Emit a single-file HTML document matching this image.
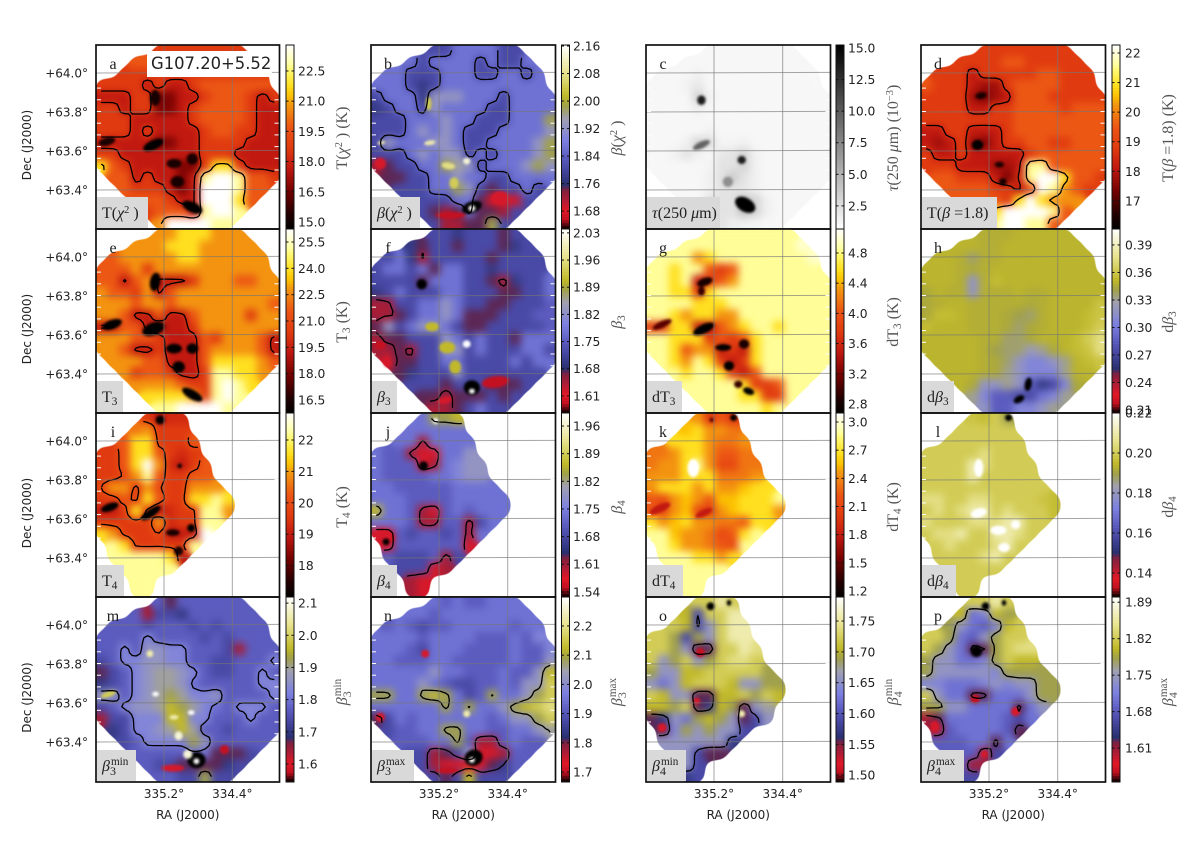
<!DOCTYPE html>
<html lang="en">
<head>
<meta charset="utf-8">
<title>G107.20+5.52 dust parameter maps</title>
<style>
html,body{margin:0;padding:0;background:#fff;}
#figure{display:block;width:1200px;height:842px;}
text{font-family:"DejaVu Sans",sans-serif;fill:#222;}
.serif{font-family:"Liberation Serif","DejaVu Serif",serif;}
</style>
</head>
<body>
<svg id="figure" xmlns="http://www.w3.org/2000/svg" width="1200" height="842" viewBox="0 0 1200 842">
<defs>
<filter id="smooth" x="-15%" y="-15%" width="130%" height="130%" color-interpolation-filters="sRGB">
<feGaussianBlur in="SourceGraphic" stdDeviation="4" result="colour"/>
<feComponentTransfer in="colour" result="opaque"><feFuncA type="linear" slope="30"/></feComponentTransfer>
<feGaussianBlur in="SourceAlpha" stdDeviation="6" result="coverage"/>
<feComponentTransfer in="coverage" result="mask"><feFuncA type="linear" slope="14" intercept="-5.6"/></feComponentTransfer>
<feComposite in="opaque" in2="mask" operator="in"/>
</filter>
<filter id="soft" x="-60%" y="-60%" width="220%" height="220%" color-interpolation-filters="sRGB">
<feGaussianBlur stdDeviation="1.2"/>
</filter>
</defs>
</svg>
<script>
// Map values are colourbar levels 0 (bottom of the bar) to 9 (top of the bar), read by eye. _ = no data.
const _ = null;
const raTicks = [335.2, 334.4];
const decTicks = [64.0, 63.8, 63.6, 63.4];

const valuesA = [
[_,_,_,_,_,4,4,4,4,4,4,4,4],
[_,_,_,5,5,4,4,4,4,4,4,4,4,4],
[_,_,4,4,4,4,4,4,4,4,4,4,4,4,4],
[4,4,4,4,3,4,3,3,4,5,5,5,5,5,5],
[3,3,3,4,4,2,2,3,3,4,5,5,5,4,3,4],
[4,4,3,4,4,2,2,3,4,5,5,5,5,4,3,3],
[4,4,4,3,3,3,3,3,4,5,5,5,5,4,3,3],
[4,4,4,3,4,3,3,3,3,4,5,5,4,4,3,3],
[3,3,3,3,3,2,2,3,3,4,4,4,4,3,3,3],
[4,4,3,3,3,3,3,3,3,4,4,4,3,3,3,3],
[7,5,4,3,3,3,3,2,2,4,7,7,4,3,3,3],
[_,5,5,3,4,3,3,2,3,8,9,9,8,5,5,4],
[_,_,5,4,4,4,3,2,3,9,9,9,8,5,5],
[_,_,_,5,5,5,4,3,3,9,9,9,7,5],
[_,_,_,_,4,5,5,5,3,8,9,9,8],
[_,_,_,_,_,6,9,9,9,9,8,8]
];
const valuesB = [
[_,_,_,_,_,3,3,4,4,4,4,3,3],
[_,_,_,4,3,4,4,4,4,3,4,3,3,4],
[_,4,4,3,3,3,4,4,4,3,3,4,4,3,4],
[4,4,4,3,2.5,3,4,4,4,4,4,4,4,4,4],
[3,4,4,4,2.5,5,5,5,4,4,4,3,4,4,4,4],
[2.5,3,4,4,3,5,4,4,4,4,3,3,4,4,4,4],
[3,3,3,4,4,4,5,4,4,3,3,3,4,4,4,6],
[3,3,3,4,5,4,5,4,3,3,3,4,4,4,4,5],
[3,5,4,4,4,5,5,4,3,3,4,4,4,4,5,6],
[3,3,3,4,5,4,5,5,3,4,3,4,4,4,5,6],
[1.5,2,3,3,4,4,6,5.5,5,3,4,4,4,5,6,5],
[_,2,2,3,3,4,4,5,4,4,3,3,4,4,4,4],
[_,_,3,3,3,4,4,6,5,3,2,3,3,4,3],
[_,_,_,3,3,3,3,4,4,2,1,1,1,3],
[_,_,_,_,3,2,1.5,2,4,2,2,1.5,3],
[_,_,_,_,_,3,1.5,1.5,2,2,6,3]
];
const valuesC = [
[_,_,_,_,_,.3,.3,.3,.3,.3,.3,.3,.3],
[_,_,_,.3,.3,.3,.3,.3,.3,.3,.3,.3,.3,.3],
[_,.3,.3,.3,.5,.3,.3,.3,.3,.3,.3,.3,.3,.3,.3],
[.3,.3,.3,.5,.8,.3,.3,.3,.3,.3,.3,.3,.3,.3,.3],
[.3,.3,.3,.3,1.5,.5,.3,.3,.3,.3,.3,.3,.3,.3,.3,.3],
[.3,.3,.3,.3,.6,.3,.3,.3,.3,.3,.3,.3,.3,.3,.3,.3],
[.3,.3,.3,.3,.3,.3,.3,.3,.3,.3,.3,.3,.3,.3,.3,.3],
[.3,.3,.3,.3,.3,.5,.3,.3,.3,.3,.3,.3,.3,.3,.3,.3],
[.3,.3,.3,.5,1.5,1.2,.4,.4,.5,.3,.3,.3,.3,.3,.3,.3],
[.3,.3,.5,1,.5,.3,.8,1,1.5,.5,.3,.3,.3,.3,.3,.3],
[.3,.3,.3,.3,.3,.4,1,1,1.5,.5,.3,.3,.3,.3,.3,.3],
[_,.3,.3,.3,.3,.5,1,1.8,1,.5,.3,.3,.3,.3,.3,.3],
[_,_,.3,.3,.3,.5,1,1,.8,.5,.3,.3,.3,.3,.3],
[_,_,_,.3,.3,1,1,1,2,1.5,.5,.3,.3,.3],
[_,_,_,_,.3,1,1,1,2,1.5,.5,.3,.3],
[_,_,_,_,_,.5,1,.6,.5,.4,.3,.3]
];
const valuesD = [
[_,_,_,_,_,4,4,4,4,4,4,4,4],
[_,_,_,4,4,4,4,5,5,4,4,4,4,4],
[_,4,4,4,3,4,4,4,4,4,5,5,4,4,4],
[5,4,4,4,3,2.5,2.5,4,5,5,5,5,4,4,4],
[4,4,4,4,2.5,2,2.5,3,5,5,5,4,4,4,4,4],
[4,4,4,4,3,3,4,4,5,5,5,5,4,5,5,5],
[4,4,4,4,4,4,4,4,5,5,5,5,5,5,5,5],
[3,3,4,4,3,3,3,4,5,5,5,5,5,5,5,5],
[3,2.5,3,4,2.5,2,3,4,4,5,5,4,4,5,5,5],
[4,3,3,4,3,3,3,3,3,4,5,5,5,5,5,5],
[4,4,4,3,3,3,2.5,2.5,3,8,8,5,5,5,5,5],
[_,5,5,4,4,4,3,2,3.5,8,9,9,7,5,5,4],
[_,_,5,5,5,5,4,4,3,5,9,8,6,5,4],
[_,_,_,5,5,5,5,4,7,9,7,6,6,6],
[_,_,_,_,5,5,7,9,9,9,9,8,5],
[_,_,_,_,_,5,8,9,9,8,8,5]
];
const valuesE = [
[_,_,_,_,_,6,6,7,7,7,6,6,6],
[_,_,_,6,6,6,7,7,7,6,6,6,6,6],
[_,5,6,6,6,6,6,7,7,6,6,6,6,6,6],
[5,5,5,6,4,6,6,6,6,6,6,6,6,6,6],
[5,5,3,5,6,3,3,3,4,6,6,6,5,5,6,6],
[6,5,5,4,6,3,5,6,6,6,6,6,6,6,6,6],
[6,6,6,5,6,6,5,6,6,6,6,6,6,6,6,5],
[6,6,5,3,3,5,3,3,5,6,6,6,6,4,6,6],
[3,3,5,5,3,2,3,3,4,6,6,6,6,6,6,6],
[6,6,6,5,5,4,3,3,3,5,4,6,6,6,5,3],
[6,6,5,3,3,4,3,3,3,5,6,6,6,6,5,3],
[_,6,6,6,5,5,3,3,3,5,7,7,7,7,6,5],
[_,_,6,4,5,5,4,3,3,4,8,8,7,7,6],
[_,_,_,6,6,6,6,5,4,4,8,9,8,7],
[_,_,_,_,7,7,7,7,6,4,8,9,8],
[_,_,_,_,_,8,8,9,9,9,9,8]
];
const valuesF = [
[_,_,_,_,_,3,3,2.5,3,3,3,2,3],
[_,_,_,2.5,2,3,3,2,3,3,3,2,2.5,3],
[_,3,4,2.5,1.5,3,3,3,3,3,2,3,3,3,3],
[3,4,4,3,4,2,4,4,3,3,2.5,3,3,3,3],
[3,3,3,3,2,4,4,4,3,3,2,1.5,2.5,3,3,4],
[2.5,3,4,3,3,3,4,4,3,3,3,2,2,3,3,4],
[1.5,1.5,3,3,4,4,5,4,3,3,2,2,3,3,3,3.5],
[1.5,1.5,2,3,4,4,5,4,2,2,2,3,3,3,3.5,3.5],
[2,5,3,4,5,5,4,3,2,2,3,3,3,3,3,3.5],
[1.5,2,2,3,3,3,5,4,3,4,3,3,2,4,4,4],
[1.5,1.5,2,1.5,3,3,5,5,3,4,3,3,3,4,4,3],
[_,1,2,2,3,3,4,4,3,3,3,3,4,3,4,4],
[_,_,2,2.5,3,3,3,5,3,3,3,3,3,3,3],
[_,_,_,3,3,3,2,3,3,3,2,2,2,3],
[_,_,_,_,2,2,1.5,2,2,2,3,2,3],
[_,_,_,_,_,1.5,1.5,2,3,4,3,3]
];
const valuesG = [
[_,_,_,_,_,8,8,8,8,8,8,8,8],
[_,_,_,8,8,8,8,8,8,8,8,8,8,8.5],
[_,8,8,8,6,7,8,8,8,8,8,8,8,8,8.5],
[8,8,7,8,8,5,4,5,8,8,8,8,8,8,8],
[8,8,7,8,3,4,5,6,8,8,8,8,8,8,8,8],
[8,8,7,7,4,7,8,8,8,8,8,8,8,8,8,8],
[8,8,8,8,7,7,7,8,8,8,8,8,8,8,8,8],
[8,8,7,6,7,7,6,6,8,8,8,8,8,8,8,8],
[4,4,7,7,3,3,5,6,7,8,8,7,8,8,8,8],
[8,8,7,7,7,4,5,4,5,7,8,8,8,8,8,8],
[8,8,7,5,6,6,3,4,3,7,8,8,8,8,8,8],
[_,8,7,6,8,7,4,3,4,7,8,8,8,8,8,8],
[_,_,8,7,8,8,7,4,3,5,8,8,8,8,8],
[_,_,_,8,8,8,8,8,7,4,4,5,8,8],
[_,_,_,_,8,8,8,8,7,7,4,4,8],
[_,_,_,_,_,8,8,8,8,8,7,8]
];
const valuesH = [
[_,_,_,_,_,6.3,6.3,6.3,6.4,6.4,6.4,6.4,6.4],
[_,_,_,6.4,6.4,6.3,6.3,6.4,6.4,6.4,6.4,6.4,6.4,6.4],
[_,6.4,6.4,6.3,5.8,6.3,6.3,6.4,6.4,6.4,6.4,6.4,6.4,6.4,6.4],
[6.4,6.4,6.4,6.3,6.2,6.3,6.4,6.4,6.4,6.4,6.4,6.4,6.4,6.4,6.4],
[6.4,6.4,6.4,6.3,5,6.3,6.6,6.4,6.4,6.4,6.4,6.4,6.4,6.4,6.4,6.4],
[6.2,6.4,6.3,6.3,5,6.3,6.3,6.3,6.4,6.3,6.3,6.4,6.4,6.4,6.4,6.4],
[6.2,6.3,6.4,6.4,6.3,6.3,6.3,6.3,6.3,6.2,6.3,6.4,6.4,6.4,6.4,6.8],
[6.2,6.6,6.6,6.4,6.3,6.3,6.3,6.2,6,5.8,6.3,6.4,6.4,6.4,6.6,6.8],
[6.6,6.4,6.4,6.4,6.3,6.3,6.3,6.2,5.8,6.2,6.3,6.4,6.4,6.4,6.6,7],
[6.4,6.4,6.4,6.4,6.4,6.3,6.3,5.8,5.8,6.2,6.4,6.4,6.4,6.6,7,7.5],
[6.4,6.4,6.4,6.4,6.4,6.3,6,5.8,5.8,5.2,5.6,6.2,6.4,6.6,6.8,7.5],
[_,6.4,6.4,6.4,6.4,6.3,6.2,5.8,5,4.5,4.5,5,5.6,6.4,6.6,6.8],
[_,_,6.4,6.4,6.4,6.3,6.2,5.6,5,4.5,4.5,4.5,5.6,6.4,6.4],
[_,_,_,6.4,6.2,5,5,5.6,5,3.5,2.5,3,4.5,6.2],
[_,_,_,_,5.6,4.5,3.5,3.5,3,3,4,4.5,5.6],
[_,_,_,_,_,5,3.5,3.5,4.5,4.5,5,5.6]
];
const valuesI = [
[_,_,_,_,4,3,3.5,3.5],
[_,_,_,5.5,6,4,4,4],
[_,_,5,7,7,4,4,4,5],
[4,4,5,7,7,5,4,3.5,4],
[4,4,5,7,9,6,3.5,3,4,5],
[4,4,4.5,6,8,5,4,4,5,5],
[4.5,6,6,4,6,4.5,4,4,6,6,6],
[4,4,5,4,7,5,4,4,7,7,8,7],
[3,3,4,7,4,3,3.5,4,4,8,8,6],
[4,4,4,4,4,6,3.5,4,4,8,8],
[7,6,4,4,4,4.5,3,3,3,9],
[_,8,7,4,4,4,4,4,8],
[_,8,8,8,8,8,7,3],
[_,_,8,8,8,8,8],
[_,_,_,8,8],
[_,_,_,8,8]
];
const valuesJ = [
[_,_,_,_,4,6,6,6.5],
[_,_,_,4,4,4,4,4],
[_,_,4,4,1.5,4,4,4,4],
[4,3.5,3.5,1.5,1,1,4,4,5],
[4,3.5,3.5,3.5,1,1.5,4,4.5,5,5],
[4,3.5,3.5,3.5,3.5,4,4,4.5,5,5],
[4,4,3.5,3.5,3.5,3.5,3.5,4,4,4,4],
[4,4,4,3.5,3.5,3.5,3.5,4,4,4,4,4],
[6.5,4,4,3.5,1.5,1,3.5,4,3.5,4,4,4],
[4,4,4,3.5,1.5,1.5,3.5,3.5,1.5,3,4],
[1,1,3.5,3,3.5,3.5,3,3.5,1.5,4],
[_,1,3.5,3.5,3.5,3.5,3.5,3.5,1],
[_,3.5,3,3,3,3.5,1.5,3],
[_,_,3,3,3,1,1.5],
[_,_,_,1.5,1],
[_,_,_,1.5,1]
];
const valuesK = [
[_,_,_,_,6,4,5,4],
[_,_,_,6.5,7,6,6,5.5],
[_,_,7,7,7,6,5.5,5.5,6],
[5.5,5.5,6,7,7,6,5,5,5.5],
[5.5,6,6,7,8,6,4.5,4.5,5.5,5.5],
[6,6,6,7,7,7,5.5,5.5,5.5,6],
[6,7,7,7,6,7,6,6,6.5,7,7],
[5,4.5,6,6.5,6,5,6.5,6.5,7,7,7,8],
[5,4.5,6,6.5,4.5,4,6,6.5,7,7,7,6],
[7,6,6.5,7,6,6,5.5,5.5,5,7,7],
[8,8,6.5,6,6,5.5,4.5,5,7,8],
[_,8,7,6,6,5.5,5,4.5,8],
[_,8,8,8,7,7,6,7],
[_,_,8,8,8,8,8],
[_,_,_,8,8],
[_,_,_,8,8]
];
const valuesL = [
[_,_,_,_,6.8,6.6,7,6],
[_,_,_,7,7,7,7,7],
[_,_,7,7,7,7,7,7,7],
[7,7,7,7,7,7.5,7,7,7],
[7,7,7,7,8,7.5,7,7,7,7],
[7,7,7,7,8,7,7,7,7,7],
[7,7,7,7,7,7,7,7,7,7,7],
[7.5,7.5,7,7,7.5,7.5,7,7,7,7,6.8,6.6],
[7,7.5,7,7.5,8,8,7,7.5,7,7,7,6.6],
[7.5,7,7,7,7.5,7.5,7.5,8,8,7,7],
[7,7.5,7.5,8,7,7,8,8,7.5,7],
[_,7,7.5,7,7,7,7.5,8,7],
[_,7,7,7,7,7.5,8,7],
[_,_,7,7,7,7,7],
[_,_,_,7,7],
[_,_,_,7,7]
];
const valuesM = [
[_,_,_,_,_,3.5,2,3.5,3.5,3.5,3.5,3.5,3.5],
[_,_,_,3.5,1.5,3,3,2.5,3.5,3.5,3.5,3.5,3.5,3.5],
[_,3.5,3.5,3.5,3,3.5,3.5,3.5,3,3.5,3,3.5,3.5,3.5,3.5],
[3.5,3.5,3.5,3.5,4.5,3.5,3.5,3.5,3.5,3,3.5,3,3.5,3.5,3.5],
[3.5,3.5,4.5,3.5,5,5,4.5,4.5,3.5,3.5,3.5,3,1.5,3.5,3.5,3.5],
[3,3.5,4.5,4.5,5,5,4.5,4.5,3.5,3.5,3,3,3.5,3.5,3.5,4.5],
[2,3,3.5,4.5,5,5.5,5.5,5,4.5,3.5,3,3,3.5,3.5,4.5,3.5],
[2.5,3,3.5,4.5,5,5.5,5.5,5,4,3.5,3.5,3.5,3.5,3.5,4.5,4.5],
[5,5,3.5,4.5,5,5.5,6,5.5,4.5,4.5,5,3.5,3.5,3.5,3.5,4.5],
[3,3.5,4.5,5,5,5.5,6.5,6,5.5,4.5,4,3.5,4.5,4.5,4.5,3.5],
[1.5,3,3,4.5,4.5,4.5,6.5,6.5,4.5,4.5,3.5,3.5,3.5,4.5,3.5,3.5],
[_,2.5,3,4.5,4.5,5,5.5,6.5,5.5,3.5,3.5,3,3.5,3.5,3.5,3.5],
[_,_,3,3.5,4.5,4.5,4.5,4.5,6,5,3.5,3.5,3.5,3.5,3.5],
[_,_,_,3.5,3.5,3.5,3.5,3.5,4,4,2,2,2,3],
[_,_,_,_,3.5,3,3,2,2,2,2,2.5,3],
[_,_,_,_,_,3.5,3.5,3,3,6,3,3]
];
const valuesN = [
[_,_,_,_,_,4,3.5,4,3.5,3.5,4,4,4],
[_,_,_,4,4,3.5,4,4,4,4,4,4,4,4],
[_,3.5,4,3.5,3,3.5,3.5,4,4,4,4,4,3.5,4,4],
[4,4,4,4,3.5,4,4,4,4,3.5,3.5,3.5,4,3.5,4.5],
[4,4,4,3.5,3,4,4,4,3.5,3.5,3.5,3.5,4,3.5,3.5,4.5],
[4,4,3.5,3.5,3.5,4,4,3.5,3.5,3.5,3.5,3.5,4,3.5,3.5,5],
[4,4,4,4,4,5,4,4,3.5,3.5,3.5,4,3.5,3.5,5,6.5],
[4,4,4,4,5,4,3.5,3,3,3.5,3.5,4,3.5,5,5,7],
[6,6,4,4,6,6.5,6,4,3,3.5,6,4,4,5,6,7],
[4,4,4,4,4,4,6,4,6,4,4,5,6,6.5,7,7.5],
[2,3,4,3.5,4,4,4,4,4,4,3.5,4,5,5,6,7],
[_,3,3.5,3.5,4,4,6,6,4,4,3.5,3.5,4,4,5,5.5],
[_,_,3.5,3.5,3.5,4,4,6,3.5,1.5,1.5,3.5,4,3.5,3.5],
[_,_,_,3,3,1.5,2,3,5,1,1,1.5,3.5,3.5],
[_,_,_,_,3,1.5,1,1,1,1,2,2.5,3.5],
[_,_,_,_,_,3,2,3,6.5,3,3,3]
];
const valuesO = [
[_,_,_,_,7,7,8,7],
[_,_,_,6.5,3,7,7,8],
[_,_,7,6.5,3,5,7,8,8],
[7,7,6,3,6,5,7,8,8],
[7,7,6,5,2,2,7,7,8,7.5],
[7,5,6,7,5,6,7,7.5,7.5,7],
[6,5,5,6.5,6.5,7,7,7,7,7,6],
[5,4,5,6.5,7,7,7,6.5,5,5,6,6],
[7,6.5,5,5,2,2,6.5,6.5,7,6,7,6.5],
[6.5,6.5,6,7,2,2.5,6.5,6,2,5,5.5],
[2,2.5,5,4,6,6.5,6,5,2,3,5],
[_,2,4.5,6,5,6,5,5,3],
[_,5,5,5,5,5,5,2.5],
[_,_,5,5,3,2,2],
[_,_,_,5,3],
[_,_,_,2.5,3]
];
const valuesP = [
[_,_,_,_,7,7,8,7],
[_,_,_,6.5,4,4.5,6.5,6],
[_,_,6,5,4,3.5,4.5,6.5,7],
[7,7,6,4,3.5,5,6,7,7],
[7,6,5,4,2,2,6,7,7.5,7.5],
[6,5,5,4,4,4.5,6,7,6.5,6.5],
[6,5,5,5,5,5,4.5,6,6,6,6],
[4.5,4.5,4,4,4,4.5,5,4.5,5,5,6,6],
[7,5,4,4,2,2,4,4,4,5,6,6],
[6,6,5,5,4,4,4,4,2,4,5],
[1.5,2,4,4,4,4,4,3.5,3,4],
[_,1.5,3.5,4,4,4,4,3.5,2],
[_,3.5,3.5,3.5,4,4,2,4],
[_,_,3.5,3.5,3.5,1.5,3],
[_,_,_,3.5,1.5],
[_,_,_,3,3]
];

// Compact clumps: [column, row, x radius, y radius, level, rotation] in map-grid units.
const clumpsA = [[4.66,4.1,.45,.7,0.5,0],[4.5,8.2,.95,.42,0,-25],[.45,7.9,.75,.35,0.5,-15],[6.3,9.8,.65,.42,0.5,0],[6.6,11.4,.6,.5,0.5,0],[7.9,9.4,.5,.5,0.5,0],[7.9,13.6,.95,.45,0,25]];
const clumpsB = [[8.25,13.6,.9,.5,0,-20],[8.25,13.7,.3,.25,9,0],[4.5,4.6,.25,.6,7,0],[4.6,8,.5,.2,8,-10],[.4,8,.35,.16,8,-10],[6.2,10,.6,.3,7.5,10],[6.7,11.5,.4,.5,7,0],[7.8,9.6,.32,.3,8.5,0],[10.7,12.8,.8,.6,1,0],[6.4,14.3,1.3,.3,0.5,0],[.3,9.8,.5,.5,1,0]];
const clumpsC = [[4.3,4.3,.36,.42,8,0],[4.3,8.2,.8,.3,5.5,-25],[7.8,9.5,.36,.36,8,0],[6.6,11.4,.45,.45,4,0],[8.1,13.4,.95,.6,9,30]];
const clumpsD = [[4.7,3.9,.5,.3,0.5,-10],[4.4,8.2,.5,.45,0,0],[6.3,9.9,.4,.25,0.5,0],[6.6,11.4,.35,.32,0.5,0]];
const clumpsE = [[4.66,4.1,.45,.8,0,10],[4.5,8.2,1,.55,0,-20],[.9,7.8,.9,.4,0,-20],[6.3,9.9,.7,.42,0,0],[6.7,11.5,.55,.5,0,0],[7.9,9.9,.5,.45,0,0],[7.9,13.9,1,.4,0,30]];
const clumpsF = [[3.9,4.3,.45,.45,0,0],[.3,9.6,.5,.4,0.5,0],[.9,11.1,.3,.4,1,0],[8.25,13.3,.7,.65,0,0],[8.25,13.6,.25,.22,9,0],[10.3,12.8,1.2,.5,0.5,-8],[7.8,9.5,.35,.32,9,0],[5.9,14.4,.7,.3,1,-10],[6.1,9.8,.7,.5,6.5,0],[6.8,11.5,.5,.6,6.5,0],[4.8,8,.6,.4,6.5,0]];
const clumpsG = [[4.6,4.1,.7,.35,0.5,-20],[4.3,4.9,.3,.42,1,0],[.9,7.8,.9,.3,1.5,-25],[4.5,8.2,1,.4,0,-25],[8,9.5,.45,.42,0.5,0],[6.2,9.8,.7,.3,0,0],[6.7,11.4,.45,.42,0,0],[8.4,13.6,.5,.3,0,20],[7.5,13,.36,.32,1,0]];
const clumpsH = [[8.8,13,.3,.6,0,10],[8,14.3,.5,.3,0,-30]];
const clumpsI = [[5.1,.1,.4,.4,0,0],[.7,7.7,.8,.35,0,-20],[4.3,8.2,1,.35,0,-35],[6.2,9.9,.6,.3,0.5,0],[7.8,9.5,.35,.35,0,0],[6.7,11.5,.4,.4,0.5,0],[6.8,4.1,.2,.2,0,0]];
const clumpsJ = [[.7,10.2,.9,.6,1,20],[4.05,4.1,.4,.4,0,0],[.8,10.7,.3,.3,0,0],[5.1,.2,.25,.25,9,0]];
const clumpsK = [[7.1,-.1,.3,.3,0,0],[5.2,.1,.2,.2,1.5,0],[.7,7.8,1,.35,3,-25],[4.5,8.2,.8,.3,3,-25],[3.6,4.3,.5,.8,9,0]];
const clumpsL = [[7.1,-.1,.3,.3,0,0],[4.5,4.3,.4,.8,9,0],[4.5,8.2,.7,.4,9,-15],[6.2,9.7,.7,.4,9,0],[6.7,11.2,.5,.4,9,0],[7.7,9.2,.4,.4,9,0]];
const clumpsM = [[8.25,13.6,.8,.7,0,0],[8.25,13.7,.25,.25,9,0],[10.7,12.7,.4,.4,0.5,0],[7.5,13.1,.4,.4,8.5,0],[6.7,11.5,.35,.4,8.5,0],[7.8,9.5,.3,.2,9,0],[6.3,9.9,.4,.2,8,0],[4.7,7.9,.3,.2,9,0],[4.2,4.4,.3,.3,8,0],[.6,7.9,.7,.25,7,-20],[6.2,14.3,1,.3,1,0]];
const clumpsN = [[8.4,13.4,.8,.7,0,-20],[8.25,13.6,.25,.25,9,0],[6.1,14.5,1,.25,0.5,0],[7.8,9.6,.3,.3,8,0],[4.2,4.4,.35,.35,1,0],[.3,9.9,.4,.4,1,0]];
const clumpsO = [[5.1,.3,.35,.35,0,0],[6.7,0,.2,.25,0,0],[4.2,4.3,.4,.4,0.5,0],[3.9,8.5,.3,.3,1,0],[.9,10.8,.4,.4,1,0],[7.8,9.6,.3,.3,8,0]];
const clumpsP = [[5.1,.3,.35,.35,0,0],[6.7,0,.2,.25,0,0],[4.3,4.2,.5,.5,0,0],[4.2,8.3,.4,.4,0.5,0],[7.7,9.4,.4,.4,1,0],[.7,10.7,.4,.5,1,0],[5,13.1,.3,.3,1,0]];

const ticksA = ['22.5','21.0','19.5','18.0','16.5','15.0'];
const ticksB = ['2.16','2.08','2.00','1.92','1.84','1.76','1.68'];
const ticksC = ['15.0','12.5','10.0','7.5','5.0','2.5'];
const ticksD = ['22','21','20','19','18','17'];
const ticksE = ['25.5','24.0','22.5','21.0','19.5','18.0','16.5'];
const ticksF = ['2.03','1.96','1.89','1.82','1.75','1.68','1.61'];
const ticksG = ['4.8','4.4','4.0','3.6','3.2','2.8'];
const ticksH = ['0.39','0.36','0.33','0.30','0.27','0.24','0.21'];
const ticksI = ['22','21','20','19','18'];
const ticksJ = ['1.96','1.89','1.82','1.75','1.68','1.61','1.54'];
const ticksK = ['3.0','2.7','2.4','2.1','1.8','1.5','1.2'];
const ticksL = ['0.22','0.20','0.18','0.16','0.14'];
const ticksM = ['2.1','2.0','1.9','1.8','1.7','1.6'];
const ticksN = ['2.2','2.1','2.0','1.9','1.8','1.7'];
const ticksO = ['1.75','1.70','1.65','1.60','1.55','1.50'];
const ticksP = ['1.89','1.82','1.75','1.68','1.61'];

const sub = s => `<tspan dy="3" font-size="0.7em">${s}</tspan><tspan dy="-3"> </tspan>`;
const subsup = (b, u) => `<tspan font-style="italic">β</tspan><tspan dy="4" font-size="0.75em">${b}</tspan><tspan dy="-10" dx="-5" font-size="0.7em">${u}</tspan>`;
const beta = '<tspan font-style="italic">β</tspan>';
const chi2 = '(<tspan font-style="italic">χ</tspan><tspan dy="-5" font-size="0.65em">2</tspan><tspan dy="5"> )</tspan>';

const panels = [
{id:'a',col:0,row:0,values:valuesA,clumps:clumpsA,cmap:'heat',vmin:14.65,vmax:23.79,ticks:ticksA,levels:[3.5,6.5],title:`T${chi2}`,cbTitle:`T${chi2} (K)`,box:51},
{id:'b',col:1,row:0,values:valuesB,clumps:clumpsB,cmap:'cool',vmin:1.628,vmax:2.163,ticks:ticksB,levels:[3.5,6.5],title:`${beta}${chi2}`,cbTitle:`${beta}${chi2}`,box:48},
{id:'c',col:2,row:0,values:valuesC,clumps:clumpsC,cmap:'gray',vmin:0.67,vmax:15.24,ticks:ticksC,levels:[],title:'<tspan font-style="italic">τ</tspan>(250 <tspan font-style="italic">μ</tspan>m)',cbTitle:'<tspan font-style="italic">τ</tspan>(250 <tspan font-style="italic">μ</tspan>m) (10<tspan dy="-5" font-size="0.65em">−3</tspan><tspan dy="5">)</tspan>',box:73},
{id:'d',col:3,row:0,values:valuesD,clumps:clumpsD,cmap:'heat',vmin:16.05,vmax:22.27,ticks:ticksD,levels:[3.5,6.5],title:`T(${beta} =1.8)`,cbTitle:`T(${beta} =1.8) (K)`,box:75},
{id:'e',col:0,row:1,values:valuesE,clumps:clumpsE,cmap:'heat',vmin:15.76,vmax:26.24,ticks:ticksE,levels:[3.5],title:`T${sub('3')}`,cbTitle:`T${sub('3')}(K)`,box:26},
{id:'f',col:1,row:1,values:valuesF,clumps:clumpsF,cmap:'cool',vmin:1.566,vmax:2.04,ticks:ticksF,levels:[1.8,5.5],title:`${beta}${sub('3')}`,cbTitle:`${beta}${sub('3')}`,box:25},
{id:'g',col:2,row:1,values:valuesG,clumps:clumpsG,cmap:'heat',vmin:2.68,vmax:5.118,ticks:ticksG,levels:[],title:`dT${sub('3')}`,cbTitle:`dT${sub('3')}(K)`,box:35},
{id:'h',col:3,row:1,values:valuesH,clumps:clumpsH,cmap:'cool',vmin:0.2067,vmax:0.4074,ticks:ticksH,levels:[],title:`d${beta}${sub('3')}`,cbTitle:`d${beta}${sub('3')}`,box:32},
{id:'i',col:0,row:2,values:valuesI,clumps:clumpsI,cmap:'heat',vmin:17.0,vmax:22.86,ticks:ticksI,levels:[4.5],title:`T${sub('4')}`,cbTitle:`T${sub('4')}(K)`,box:27},
{id:'j',col:1,row:2,values:valuesJ,clumps:clumpsJ,cmap:'cool',vmin:1.527,vmax:1.993,ticks:ticksJ,levels:[2,5.5],title:`${beta}${sub('4')}`,cbTitle:`${beta}${sub('4')}`,box:25},
{id:'k',col:2,row:2,values:valuesK,clumps:clumpsK,cmap:'heat',vmin:1.136,vmax:3.096,ticks:ticksK,levels:[],title:`dT${sub('4')}`,cbTitle:`dT${sub('4')}(K)`,box:36},
{id:'l',col:3,row:2,values:valuesL,clumps:clumpsL,cmap:'cool',vmin:0.128,vmax:0.22,ticks:ticksL,levels:[],title:`d${beta}${sub('4')}`,cbTitle:`d${beta}${sub('4')}`,box:34},
{id:'m',col:0,row:3,values:valuesM,clumps:clumpsM,cmap:'cool',vmin:1.544,vmax:2.119,ticks:ticksM,levels:[4.2],title:subsup('3','min'),cbTitle:subsup('3','min'),box:39},
{id:'n',col:1,row:3,values:valuesN,clumps:clumpsN,cmap:'cool',vmin:1.666,vmax:2.299,ticks:ticksN,levels:[2.5,5.5],title:subsup('3','max'),cbTitle:subsup('3','max'),box:42},
{id:'o',col:2,row:3,values:valuesO,clumps:clumpsO,cmap:'cool',vmin:1.489,vmax:1.789,ticks:ticksO,levels:[3.5],title:subsup('4','min'),cbTitle:subsup('4','min'),box:39},
{id:'p',col:3,row:3,values:valuesP,clumps:clumpsP,cmap:'cool',vmin:1.545,vmax:1.9,ticks:ticksP,levels:[2.5,5.5],title:subsup('4','max'),cbTitle:subsup('4','max'),box:42}
];

const NS = 'http://www.w3.org/2000/svg';
const svg = document.getElementById('figure');
const colX = [96, 371, 646, 921];
const colW = [183.5, 184.5, 184.5, 184.5];
const rowY = [45, 229, 413, 597];
const rowH = [184, 184, 184, 185];
const cbX = [286, 561.5, 836, 1112];
const cbTickX = [298, 573, 848, 1125];
const cbTitleX = [342, 617, 893, 1168];
const cbTitleY = [138, 322, 507, 692];
const GRID = 16;
const FINE = 3;

const colormaps = {
  heat: [[0,'#000000'],[.08,'#220000'],[.2,'#700000'],[.33,'#c01810'],[.44,'#e03a10'],[.55,'#ec5414'],[.68,'#f49a10'],[.72,'#fcc000'],[.78,'#ffe020'],[.86,'#fff870'],[.9,'#ffffa8'],[1,'#ffffff']],
  cool: [[0,'#000000'],[.05,'#c01020'],[.1,'#e01828'],[.21,'#802040'],[.24,'#283070'],[.33,'#4848a4'],[.39,'#5c5cc0'],[.48,'#7c80e0'],[.6,'#a0a0b0'],[.67,'#a0a048'],[.72,'#c0b828'],[.85,'#e8e490'],[1,'#ffffff']],
  gray: [[0,'#ffffff'],[1,'#000000']]
};
function hex(c){return [parseInt(c.slice(1,3),16),parseInt(c.slice(3,5),16),parseInt(c.slice(5,7),16)];}
function colorAt(name, t){
  const st = colormaps[name];
  t = Math.max(0, Math.min(1, t));
  for (let i = 1; i < st.length; i++) {
    if (t <= st[i][0]) {
      const f = (t - st[i-1][0]) / (st[i][0] - st[i-1][0]);
      const a = hex(st[i-1][1]), b = hex(st[i][1]);
      return `rgb(${a.map((v,k)=>Math.round(v+(b[k]-v)*f)).join(',')})`;
    }
  }
  return st[st.length-1][1];
}
function make(tag, attrs, parent){
  const el = document.createElementNS(NS, tag);
  for (const k in attrs) el.setAttribute(k, attrs[k]);
  (parent || svg).appendChild(el);
  return el;
}
function raToX(ra, w){ return 68 + (335.2 - ra) * (68.5 / 0.8) * (w / 184); }
function decToY(dec){ return 28 + (64 - dec) * 195; }
function cellX(j, w){ return (j + 0.5) * w / GRID; }
function cellY(i, h){ return (i + 0.5) * h / GRID; }

// Resample a map's values the same way the blurred image shows them, so contours follow the picture.
function smoothedField(values){
  const n = (GRID - 1) * FINE + 1;
  const field = [];
  const raw = (i, j) => (values[i] && values[i][j] != null) ? values[i][j] : null;
  for (let a = 0; a < n; a++) {
    const line = [];
    const v = a / FINE;
    for (let b = 0; b < n; b++) {
      const u = b / FINE;
      if (raw(Math.round(v), Math.round(u)) === null) { line.push(null); continue; }
      let sum = 0, wt = 0;
      for (let i = Math.floor(v) - 1; i <= Math.ceil(v) + 1; i++) {
        for (let j = Math.floor(u) - 1; j <= Math.ceil(u) + 1; j++) {
          const q = raw(i, j);
          if (q === null) continue;
          const d2 = (i - v) * (i - v) + (j - u) * (j - u);
          const k = Math.exp(-d2 / (2 * 0.42 * 0.42));
          sum += q * k;
          wt += k;
        }
      }
      line.push(wt > 0 ? sum / wt : null);
    }
    field.push(line);
  }
  return field;
}
function contourPath(field, level, w, h){
  let d = '';
  const n = field.length;
  const px = c => cellX(c / FINE, w).toFixed(1);
  const py = c => cellY(c / FINE, h).toFixed(1);
  for (let i = 0; i < n - 1; i++) {
    for (let j = 0; j < n - 1; j++) {
      const a = field[i][j], b = field[i][j+1], c = field[i+1][j+1], e = field[i+1][j];
      if (a === null || b === null || c === null || e === null) continue;
      const pts = [];
      if ((a < level) !== (b < level)) pts.push([j + (level-a)/(b-a), i]);
      if ((b < level) !== (c < level)) pts.push([j+1, i + (level-b)/(c-b)]);
      if ((e < level) !== (c < level)) pts.push([j + (level-e)/(c-e), i+1]);
      if ((a < level) !== (e < level)) pts.push([j, i + (level-a)/(e-a)]);
      for (let k = 0; k + 1 < pts.length; k += 2) {
        d += `M${px(pts[k][0])} ${py(pts[k][1])}L${px(pts[k+1][0])} ${py(pts[k+1][1])}`;
      }
    }
  }
  return d;
}

panels.forEach(function(p){
  const x0 = colX[p.col], y0 = rowY[p.row], w = colW[p.col], h = rowH[p.row];
  const g = make('g', {transform:`translate(${x0} ${y0})`});
  
  

  const clip = make('clipPath', {id:'clip-' + p.id}, g);
  make('rect', {x:0, y:0, width:w, height:h}, clip);
  const clipped = make('g', {'clip-path':`url(#clip-${p.id})`}, g);

  const map = make('g', {filter:'url(#smooth)'}, clipped);
  
  
  const cw = w / GRID, ch = h / GRID;
  p.values.forEach(function(row, i){
    row.forEach(function(v, j){
      if (v == null) return;
      const cell = make('rect', {x:(cellX(j,w)-cw/2).toFixed(2), y:(cellY(i,h)-ch/2).toFixed(2), width:(cw+0.4).toFixed(2), height:(ch+0.4).toFixed(2), fill:colorAt(p.cmap, v/9)}, map);
      
      
    });
  });

  const clumpLayer = make('g', {filter:'url(#soft)'}, clipped);
  p.clumps.forEach(function(c){
    const cx = cellX(c[0], w), cy = cellY(c[1], h);
    const blob = make('ellipse', {cx:cx.toFixed(1), cy:cy.toFixed(1), rx:(c[2]*cw).toFixed(1), ry:(c[3]*ch).toFixed(1), fill:colorAt(p.cmap, c[4]/9), transform:`rotate(${c[5]} ${cx.toFixed(1)} ${cy.toFixed(1)})`}, clumpLayer);
    
    
  });

  if (p.levels.length) {
    const field = smoothedField(p.values);
    p.levels.forEach(function(level){
      const path = make('path', {d:contourPath(field, level, w, h), fill:'none', stroke:'#000', 'stroke-width':1.3, 'stroke-linejoin':'round', 'stroke-linecap':'round'}, clipped);
      
      
    });
  }

  raTicks.forEach(function(ra){
    const gx = raToX(ra, w);
    const line = make('line', {x1:gx, x2:gx, y1:0, y2:h, stroke:'#777', 'stroke-opacity':0.65, 'stroke-width':1}, clipped);
    
    
  });
  decTicks.forEach(function(dec){
    const gy = decToY(dec);
    const line = make('line', {x1:0, x2:w, y1:gy, y2:gy-0.6, stroke:'#777', 'stroke-opacity':0.65, 'stroke-width':1}, clipped);
    
    
  });

  for (let t = 8; t < h; t += 11.7) {
    const left = make('line', {x1:0, x2:5, y1:t, y2:t, stroke:'#fff', 'stroke-width':1}, clipped);
    
    
    const right = make('line', {x1:w-5, x2:w, y1:t, y2:t, stroke:'#fff', 'stroke-width':1}, clipped);
    
    
  }

  const letter = make('text', {x:17, y:24, 'font-size':16, 'text-anchor':'middle', class:'serif'}, g);
  letter.textContent = p.id;
  
  

  const box = make('rect', {x:1, y:h-32, width:p.box, height:31, fill:'#d9d9d9'}, g);
  
  
  const label = make('text', {x:6, y:h-11, 'font-size':16, class:'serif'}, g);
  label.innerHTML = p.title;
  
  

  if (p.id === 'a') {
    const tb = make('rect', {x:51, y:6, width:125, height:26, fill:'#fff'}, g);
    
    
    const st = make('text', {x:55, y:24, 'font-size':16.4, fill:'#111'}, g);
    st.textContent = 'G107.20+5.52';
    
    
  }

  const frame = make('rect', {x:0, y:0, width:w, height:h, fill:'none', stroke:'#111', 'stroke-width':1.7}, g);
  
  

  if (p.col === 0) {
    decTicks.forEach(function(dec){
      const t = make('text', {x:-8, y:decToY(dec)+4.5, 'font-size':12, 'text-anchor':'end'}, g);
      t.textContent = '+' + dec.toFixed(1) + '°';
      
      
    });
    const dl = make('text', {transform:`translate(${27-x0+4} ${h/2+8}) rotate(-90)`, 'font-size':12, 'text-anchor':'middle'}, g);
    dl.textContent = 'Dec (J2000)';
    
    
  }
  if (p.row === 3) {
    raTicks.forEach(function(ra){
      const t = make('text', {x:raToX(ra,w), y:h+16, 'font-size':12, 'text-anchor':'middle'}, g);
      t.textContent = ra.toFixed(1) + '°';
      
      
    });
    const rl = make('text', {x:w/2, y:h+37, 'font-size':12, 'text-anchor':'middle'}, g);
    rl.textContent = 'RA (J2000)';
    
    
  }

  // colourbar
  const cb = make('g', {transform:`translate(${cbX[p.col]} ${y0})`});
  
  
  const STEPS = 64;
  for (let s = 0; s < STEPS; s++) {
    const band = make('rect', {x:0, y:(h*s/STEPS).toFixed(2), width:8, height:(h/STEPS+0.4).toFixed(2), fill:colorAt(p.cmap, 1-(s+0.5)/STEPS)}, cb);
    
    
  }
  const outline = make('rect', {x:0, y:0, width:8, height:h, fill:'none', stroke:'#111', 'stroke-width':1}, cb);
  
  
  const cbY = v => (p.vmax - v) / (p.vmax - p.vmin) * h;
  p.ticks.forEach(function(lbl){
    const ty = cbY(Number(lbl));
    const m1 = make('line', {x1:0, x2:2.5, y1:ty, y2:ty, stroke:'#111', 'stroke-width':1}, cb);
    
    
    const m2 = make('line', {x1:5.5, x2:8, y1:ty, y2:ty, stroke:'#111', 'stroke-width':1}, cb);
    
    
    const t = make('text', {x:cbTickX[p.col]-cbX[p.col], y:ty+4.5, 'font-size':12.3}, cb);
    t.textContent = lbl;
    
    
  });
  const title = make('text', {transform:`translate(${cbTitleX[p.col]-cbX[p.col]+5} ${cbTitleY[p.row]-y0}) rotate(-90)`, 'font-size':16, 'text-anchor':'middle', class:'serif', style:'fill:#555'}, cb);
  title.innerHTML = p.cbTitle;
  
  
});
</script>
</body>
</html>
